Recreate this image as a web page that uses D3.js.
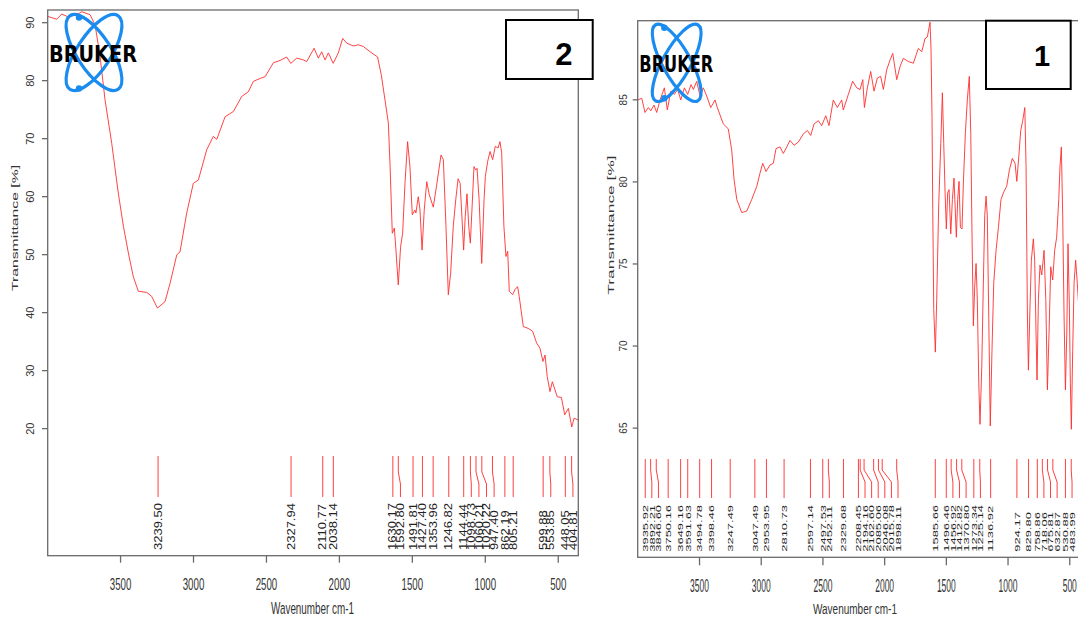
<!DOCTYPE html>
<html>
<head>
<meta charset="utf-8">
<script src="https://cdn.jsdelivr.net/npm/d3@7"></script>
<style>
  body { margin: 0; background: #fff; }
  svg { display: block; }
</style>
</head>
<body>
<div id="chart"></div>
<script>
// ---- spectrum 2 (left panel) ----
const spec2Wn = [3996,3934,3900,3854,3797,3762,3706,3671,3637,3603,3557,3512,3477,3443,3409,3375,3317,3283,3244,3192,3157,3111,3089,3043,2998,2963,2906,2861,2837,2780,2723,2666,2621,2586,2540,2506,2449,2403,2358,2330,2289,2244,2221,2170,2141,2118,2095,2072,2039,2004,1974,1947,1901,1867,1832,1786,1735,1710,1684,1661,1649,1634,1620,1609,1593,1577,1563,1547,1529,1513,1497,1479,1472,1456,1444,1430,1415,1398,1380,1353,1330,1300,1284,1266,1250,1234,1216,1199,1183,1169,1158,1145,1134,1122,1110,1099,1088,1074,1062,1053,1039,1021,1005,996,980,964,946,928,909,896,884,869,855,843,832,809,793,775,764,736,703,672,645,622,601,587,572,553,537,519,503,475,452,427,404,388,359];
const spec2T  = [91.0,90.5,91.4,90.9,91.3,91.8,91.3,89.5,84.1,76.6,69.1,60.5,54.8,50.2,46.1,43.6,43.4,42.7,40.7,41.8,45.0,49.9,50.4,57.1,62.2,62.8,68.0,70.3,69.8,73.7,74.6,77.2,78.0,79.8,80.3,80.6,83.0,83.4,84.0,82.9,83.8,83.5,83.2,85.5,83.8,84.9,83.5,84.7,82.9,84.7,87.2,86.4,85.9,86.1,85.8,84.9,84.0,81.0,76.6,72.6,65.1,53.6,54.5,50.7,44.7,51.3,53.6,62.2,69.4,65.1,56.8,57.6,57.1,59.9,57.6,50.7,57.6,62.5,60.2,58.1,61.9,67.1,66.3,54.8,43.0,46.7,54.8,59.4,63.0,62.2,57.1,50.7,56.5,60.4,54.8,51.9,57.6,65.1,64.5,64.8,59.4,48.4,59.4,63.4,66.0,67.7,66.3,68.6,68.3,69.4,67.4,54.8,49.6,50.5,43.6,43.0,43.9,44.4,42.7,37.5,37.2,36.7,34.7,33.8,31.5,32.6,28.9,26.3,28.0,26.6,25.4,25.3,22.3,23.4,20.2,21.7,21.4];
const peaks2 = ["3239.50","2327.94","2110.77","2038.14","1630.17","1592.80","1491.81","1427.40","1353.96","1246.82","1144.44","1098.73","1060.21","1020.22","947.40","862.19","805.21","599.88","553.85","448.05","404.81"];

// ---- spectrum 1 (right panel) ----
const spec1Wn = [3997,3964,3938,3911,3891,3865,3843,3816,3781,3757,3729,3700,3673,3648,3619,3592,3565,3546,3519,3492,3465,3438,3405,3370,3352,3303,3263,3235,3216,3194,3154,3113,3073,3032,3006,2984,2957,2925,2898,2876,2844,2817,2789,2763,2730,2695,2654,2622,2595,2568,2533,2506,2473,2447,2412,2379,2344,2331,2290,2255,2222,2195,2173,2160,2136,2109,2082,2055,2028,2006,1979,1952,1930,1898,1871,1844,1804,1763,1723,1695,1669,1650,1628,1620,1612,1606,1598,1585,1574,1558,1541,1528,1517,1506,1496,1485,1474,1460,1447,1434,1425,1415,1404,1393,1382,1369,1358,1342,1326,1310,1298,1288,1277,1266,1255,1245,1233,1223,1209,1196,1185,1174,1164,1152,1140,1126,1112,1093,1074,1053,1028,1007,985,961,939,925,909,893,877,860,850,839,831,818,807,791,780,769,761,750,737,723,704,690,677,664,650,634,618,602,585,575,564,553,542,531,520,510,499,491,483,472,461,448,435,420];
const spec1T  = [84.96,85.06,84.2,84.5,84.3,84.65,84.2,84.96,85.7,84.35,85.5,85.3,85.6,84.96,85.7,85.3,85.9,85.6,86.1,85.2,85.7,85.2,84.5,84.96,84.5,83.5,83.2,81.9,80.1,78.9,78.1,78.2,78.9,79.7,80.5,81.1,80.6,81.0,81.1,82.0,82.1,81.7,82.1,82.5,82.2,82.4,82.9,83.1,82.8,83.5,83.7,83.4,84.0,83.4,84.96,84.5,84.96,84.35,85.3,86.1,85.7,85.6,86.2,84.5,85.7,86.7,85.5,86.3,86.4,85.6,86.8,87.4,87.8,86.2,87.0,87.5,87.3,87.2,88.1,87.9,88.7,88.8,89.7,88.0,83.9,78.3,72.2,69.6,72.8,78.5,82.3,85.4,82.3,79.3,77.1,79.3,79.5,76.8,78.9,80.2,78.5,76.6,78.9,80.0,77.2,77.1,79.9,82.9,84.96,86.4,82.9,76.8,71.2,73.6,75.0,72.8,67.7,65.2,68.7,73.8,77.9,79.1,77.9,71.6,65.1,69.7,73.8,75.8,77.2,78.9,79.4,79.7,80.7,81.4,81.1,80.0,81.5,83.1,83.7,84.5,80.9,71.8,68.5,72.4,75.2,76.5,75.2,70.7,67.9,72.8,74.9,74.3,75.8,72.8,67.3,70.7,74.8,74.0,75.8,76.6,78.9,80.9,82.1,77.9,71.8,67.3,70.7,76.2,72.4,67.7,64.9,69.7,73.8,75.2,73.8,72.0];
const peaks1 = ["3935.92","3892.21","3846.60","3750.16","3649.16","3591.63","3494.78","3398.46","3247.49","3047.49","2953.95","2810.73","2597.14","2497.53","2452.11","2329.68","2208.45","2194.16","2162.60","2085.06","2046.08","2015.78","1898.11","1585.66","1496.46","1456.92","1412.82","1370.80","1273.34","1225.14","1136.92","924.17","829.80","758.86","718.06","675.81","632.87","530.88","483.99"];

const xTicks = [3500, 3000, 2500, 2000, 1500, 1000, 500];
const yTicks2 = [20, 30, 40, 50, 60, 70, 80, 90];
const yTicks1 = [65, 70, 75, 80, 85];

const FONT = '"Liberation Sans", Arial, sans-serif';
const svg = d3.select('#chart').append('svg')
    .attr('width', 1078)
    .attr('height', 618);

function drawPanel(c) {
    const x = d3.scaleLinear().domain(c.xDomain).range(c.xRange);
    const y = d3.scaleLinear().domain(c.yDomain).range(c.yRange);
    const [x0, x1] = c.xRange;
    const [yb, yt] = c.yRange;
    const g = svg.append('g');

    g.append('clipPath').attr('id', c.id)
        .append('rect')
        .attr('x', x0).attr('y', yt)
        .attr('width', x1 - x0).attr('height', yb - yt);

    // spectrum
    const line = d3.line()
        .x(d => x(d[0]))
        .y(d => y(d[1]));
    g.append('path')
        .datum(d3.zip(c.wn, c.tr))
        .attr('clip-path', `url(#${c.id})`)
        .attr('fill', 'none')
        .attr('stroke', '#ff2f2f')
        .attr('stroke-width', 0.9)
        .attr('stroke-linejoin', 'round')
        .attr('d', line);

    // frame
    g.append('rect')
        .attr('x', x0).attr('y', yt)
        .attr('width', x1 - x0).attr('height', yb - yt)
        .attr('fill', 'none')
        .attr('stroke', '#6a6a6a')
        .attr('stroke-width', 1.3);

    // x axis
    const xa = g.append('g')
        .attr('transform', `translate(0, ${yb})`)
        .call(d3.axisBottom(x).tickValues(xTicks).tickSize(c.xTickLen).tickSizeOuter(0).tickFormat(d3.format('d')));
    xa.select('.domain').remove();
    xa.selectAll('.tick line').attr('stroke', '#6a6a6a').attr('stroke-width', 1.3);
    xa.selectAll('.tick text')
        .attr('y', 0).attr('dy', 0)
        .attr('fill', '#333')
        .style('font-family', FONT)
        .style('font-size', c.xFont + 'px')
        .attr('transform', `translate(0, ${c.xLabelBase - yb}) scale(1, ${c.xStretch})`);

    // y axis
    const ya = g.append('g')
        .attr('transform', `translate(${x0}, 0)`)
        .call(d3.axisLeft(y).tickValues(c.yTicks).tickSize(c.yTickLen).tickSizeOuter(0));
    ya.select('.domain').remove();
    ya.selectAll('.tick line').attr('stroke', '#6a6a6a').attr('stroke-width', 1.3);
    ya.selectAll('.tick text')
        .attr('x', 0).attr('y', 0).attr('dy', '0.36em')
        .attr('text-anchor', 'middle')
        .attr('fill', '#333')
        .style('font-family', FONT)
        .style('font-size', c.yFont + 'px')
        .attr('transform', `translate(${c.yLabelX - x0}, 0) rotate(-90)`);

    // axis titles
    g.append('text')
        .attr('transform', `translate(${c.xTitle[0]}, ${c.xTitle[1]}) scale(1, ${c.xTitle[3]})`)
        .attr('text-anchor', 'middle')
        .attr('textLength', c.xTitle[2])
        .attr('lengthAdjust', 'spacingAndGlyphs')
        .attr('fill', '#333')
        .style('font-family', FONT)
        .style('font-size', '10px')
        .text('Wavenumber cm-1');

    g.append('text')
        .attr('transform', `translate(${c.yTitle[0]}, ${c.yTitle[1]}) rotate(-90) scale(${c.yTitle[2]}, 1)`)
        .attr('text-anchor', 'middle')
        .attr('dy', '0.35em')
        .attr('fill', '#333')
        .style('font-family', FONT)
        .style('font-size', '9px')
        .text('Transmittance [%]');

    // peak picks, labels pushed apart left to right
    const px = c.peaks.map(s => x(+s));
    const lx = [];
    px.forEach((v, i) => lx.push(i === 0 ? v : Math.max(v, lx[i - 1] + c.gap)));
    const [p0, p1, p2, p3] = c.pk;
    g.append('g').selectAll('path')
        .data(c.peaks)
        .join('path')
        .attr('fill', 'none')
        .attr('stroke', '#ff4040')
        .attr('stroke-width', 1)
        .attr('d', (d, i) => `M${px[i]},${p0}V${p1}L${lx[i]},${p2}V${p3}`);
    g.append('g').selectAll('text')
        .data(c.peaks)
        .join('text')
        .attr('transform', (d, i) => `translate(${lx[i]}, ${c.pkBase}) rotate(-90) scale(${c.pkStretch}, 1)`)
        .attr('dy', '0.36em')
        .attr('fill', '#222')
        .style('font-family', FONT)
        .style('font-size', c.pkFont + 'px')
        .text(d => d);
}

function drawLogo(l) {
    const g = svg.append('g').attr('transform', `translate(${l.cx}, ${l.cy})`);
    [-l.ang, l.ang].forEach(a => {
        g.append('ellipse')
            .attr('rx', l.rx).attr('ry', l.ry)
            .attr('transform', `rotate(${a})`)
            .attr('fill', 'none')
            .attr('stroke', '#1a8cf0')
            .attr('stroke-width', 3.2);
    });
    l.dots.forEach(d => {
        g.append('circle').attr('cx', d[0]).attr('cy', d[1]).attr('r', 3.2).attr('fill', '#1a8cf0');
    });
    svg.append('text')
        .attr('x', l.tx).attr('y', l.ty)
        .attr('textLength', l.tw)
        .attr('lengthAdjust', 'spacingAndGlyphs')
        .attr('fill', '#000')
        .style('font-family', '"DejaVu Sans", sans-serif')
        .style('font-weight', 'bold')
        .style('font-size', '23px')
        .text('BRUKER');
}

function drawTag(t) {
    svg.append('rect')
        .attr('x', t.x).attr('y', t.y)
        .attr('width', t.w).attr('height', t.h)
        .attr('fill', '#fff')
        .attr('stroke', '#000')
        .attr('stroke-width', 2);
    svg.append('text')
        .attr('x', t.tx).attr('y', t.ty)
        .attr('text-anchor', 'middle')
        .attr('fill', '#000')
        .style('font-family', FONT)
        .style('font-weight', 'bold')
        .style('font-size', t.fs + 'px')
        .text(t.label);
}

drawPanel({
    id: 'clip2', wn: spec2Wn, tr: spec2T, peaks: peaks2,
    xDomain: [3996, 359], xRange: [47.7, 578.3],
    yDomain: [-2, 92.1], yRange: [555.7, 10],
    yTicks: yTicks2,
    xTickLen: 7, xFont: 9.7, xStretch: 1.7, xLabelBase: 589.5,
    yTickLen: 5.7, yFont: 11, yLabelX: 30.5,
    xTitle: [312.5, 614, 83, 1.65],
    yTitle: [15, 228, 1.75],
    gap: 7.6, pk: [456, 472, 484, 497], pkBase: 550, pkFont: 10, pkStretch: 1.3
});

drawPanel({
    id: 'clip1', wn: spec1Wn, tr: spec1T, peaks: peaks1,
    xDomain: [3997, 361], xRange: [637.7, 1086.4],
    yDomain: [57.1, 89.79], yRange: [557.3, 20.7],
    yTicks: yTicks1,
    xTickLen: 8, xFont: 8.5, xStretch: 2.1, xLabelBase: 591.5,
    yTickLen: 5, yFont: 10, yLabelX: 623,
    xTitle: [855, 614, 84, 1.5],
    yTitle: [611, 225, 1.93],
    gap: 6.6, pk: [459, 470, 482, 498], pkBase: 551.7, pkFont: 7.8, pkStretch: 1.66
});

drawLogo({ cx: 94, cy: 52.5, rx: 17, ry: 44, ang: 33, dots: [[-15, -35], [-15, 36]], tx: 49, ty: 62, tw: 88 });
drawLogo({ cx: 676.7, cy: 62.8, rx: 14, ry: 43.5, ang: 29, dots: [[-12.4, -35], [-12.4, 35.5]], tx: 639.3, ty: 72, tw: 74 });

drawTag({ x: 506, y: 20, w: 86.7, h: 59, tx: 563.8, ty: 65, fs: 31, label: '2' });
drawTag({ x: 986, y: 20.7, w: 84.7, h: 68.3, tx: 1042, ty: 65.7, fs: 29, label: '1' });
</script>
</body>
</html>
